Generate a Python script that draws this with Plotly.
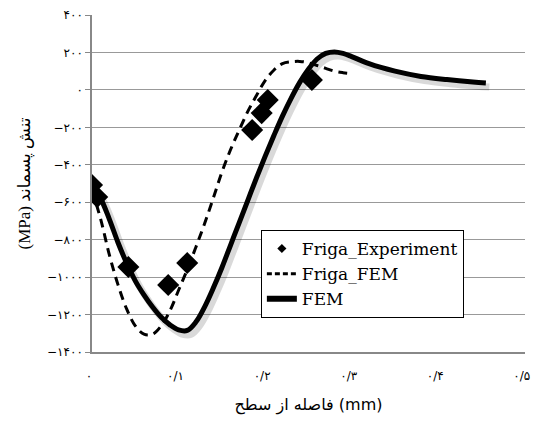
import plotly.graph_objects as go

# ---- data ----
fem_x = [0, 0.01, 0.02, 0.03, 0.04, 0.05, 0.06, 0.07, 0.08, 0.09, 0.10, 0.11, 0.12, 0.13,
         0.14, 0.15, 0.16, 0.17, 0.18, 0.19, 0.20, 0.21, 0.22, 0.23, 0.24, 0.25, 0.26,
         0.27, 0.28, 0.29, 0.30, 0.32, 0.35, 0.38, 0.41, 0.44, 0.455]
fem_y = [-510, -580, -690, -815, -925, -1020, -1095, -1160, -1215, -1255, -1282, -1285,
         -1240, -1160, -1060, -950, -830, -710, -590, -470, -355, -245, -140, -45, 40,
         110, 165, 195, 203, 195, 178, 140, 100, 72, 55, 42, 37]

friga_fem_x = [0, 0.01, 0.02, 0.03, 0.04, 0.05, 0.06, 0.07, 0.08, 0.09, 0.10, 0.11, 0.12,
               0.13, 0.14, 0.15, 0.16, 0.17, 0.18, 0.19, 0.20, 0.21, 0.22, 0.23, 0.24,
               0.25, 0.26, 0.27, 0.28, 0.29, 0.298]
friga_fem_y = [-535, -690, -880, -1040, -1170, -1260, -1305, -1305, -1260, -1180, -1070,
               -960, -840, -715, -580, -440, -320, -215, -115, -30, 50, 105, 140, 150,
               152, 145, 130, 115, 100, 92, 88]

exp_x = [0, 0.006, 0.042, 0.088, 0.110, 0.185, 0.196, 0.203, 0.254]
exp_y = [-508, -572, -946, -1042, -925, -214, -124, -54, 53]

x_tickvals = [0, 0.1, 0.2, 0.3, 0.4, 0.5]
x_ticktext = ["۰", "۰/۱", "۰/۲", "۰/۳", "۰/۴", "۰/۵"]
y_tickvals = [400, 200, 0, -200, -400, -600, -800, -1000, -1200, -1400]
y_ticktext = ["۴۰۰", "۲۰۰", "۰", "−۲۰۰", "−۴۰۰", "−۶۰۰", "−۸۰۰", "−۱۰۰۰", "−۱۲۰۰", "−۱۴۰۰"]

x_title = "فاصله از سطح \u200e(mm)"
y_title = "(MPa) تنش پسماند"

SERIF = "Liberation Serif, DejaVu Serif, DejaVu Sans, serif"
LEGF = "DejaVu Serif, Liberation Serif, serif"
PERS = "DejaVu Sans, Liberation Serif, serif"

fig = go.Figure()

# soft shadow for the FEM curve (derived from the same data)
fig.add_trace(go.Scatter(
    x=[v + 0.004 for v in fem_x], y=[v - 22 for v in fem_y], mode="lines",
    line=dict(color="rgba(0,0,0,0.15)", width=7, shape="spline", smoothing=1),
    showlegend=False, hoverinfo="skip"))

# legend-only entries (no points)
fig.add_trace(go.Scatter(
    x=[None], y=[None], mode="markers", name="Friga_Experiment",
    marker=dict(symbol="diamond", size=7, color="black")))
fig.add_trace(go.Scatter(
    x=[None], y=[None], mode="lines", name="Friga_FEM",
    line=dict(color="black", width=3, dash="5px,3px")))
fig.add_trace(go.Scatter(
    x=[None], y=[None], mode="lines", name="FEM",
    line=dict(color="black", width=6)))

fig.add_trace(go.Scatter(
    x=friga_fem_x, y=friga_fem_y, mode="lines", showlegend=False,
    line=dict(color="black", width=3, dash="9px,6px", shape="spline", smoothing=1)))

fig.add_trace(go.Scatter(
    x=fem_x, y=fem_y, mode="lines", showlegend=False,
    line=dict(color="black", width=5, shape="spline", smoothing=1)))

fig.add_trace(go.Scatter(
    x=exp_x, y=exp_y, mode="markers", showlegend=False,
    marker=dict(symbol="diamond", size=17, color="black")))

fig.update_layout(
    width=533, height=421,
    margin=dict(l=92, r=8, t=15, b=69),
    paper_bgcolor="white", plot_bgcolor="white",
    showlegend=True,
    legend=dict(
        x=0.39, y=0.362, xanchor="left", yanchor="top",
        bgcolor="white", bordercolor="black", borderwidth=1,
        font=dict(family=LEGF, size=17, color="black"),
        itemsizing="trace", tracegroupgap=0,
        traceorder="normal"),
    xaxis=dict(
        range=[0, 0.5002], tickvals=x_tickvals, ticktext=x_ticktext,
        automargin=False, ticklabeloverflow="allow", ticklabelshift=-3,
        showgrid=False, zeroline=False, showline=True, linecolor="#888",
        linewidth=1.5, ticks="", ticklabelstandoff=12,
        tickfont=dict(family=PERS, size=12, color="black"),
        title=dict(text=x_title, font=dict(family=PERS, size=16, color="black"),
                   standoff=17)),
    yaxis=dict(
        range=[-1400, 400], tickvals=y_tickvals, ticktext=y_ticktext,
        automargin=False,
        showgrid=True, gridcolor="#999", gridwidth=1, zeroline=False,
        showline=True, linecolor="#888", linewidth=1.5,
        ticks="outside", ticklen=5, tickcolor="#888",
        tickfont=dict(family=PERS, size=12, color="black"),
        title=dict(text=y_title, font=dict(family=SERIF, size=17, color="black"),
                   standoff=12)),
)

fig.write_html("out.html", config={"displayModeBar": False},
               post_script="document.body.style.margin='0';")
